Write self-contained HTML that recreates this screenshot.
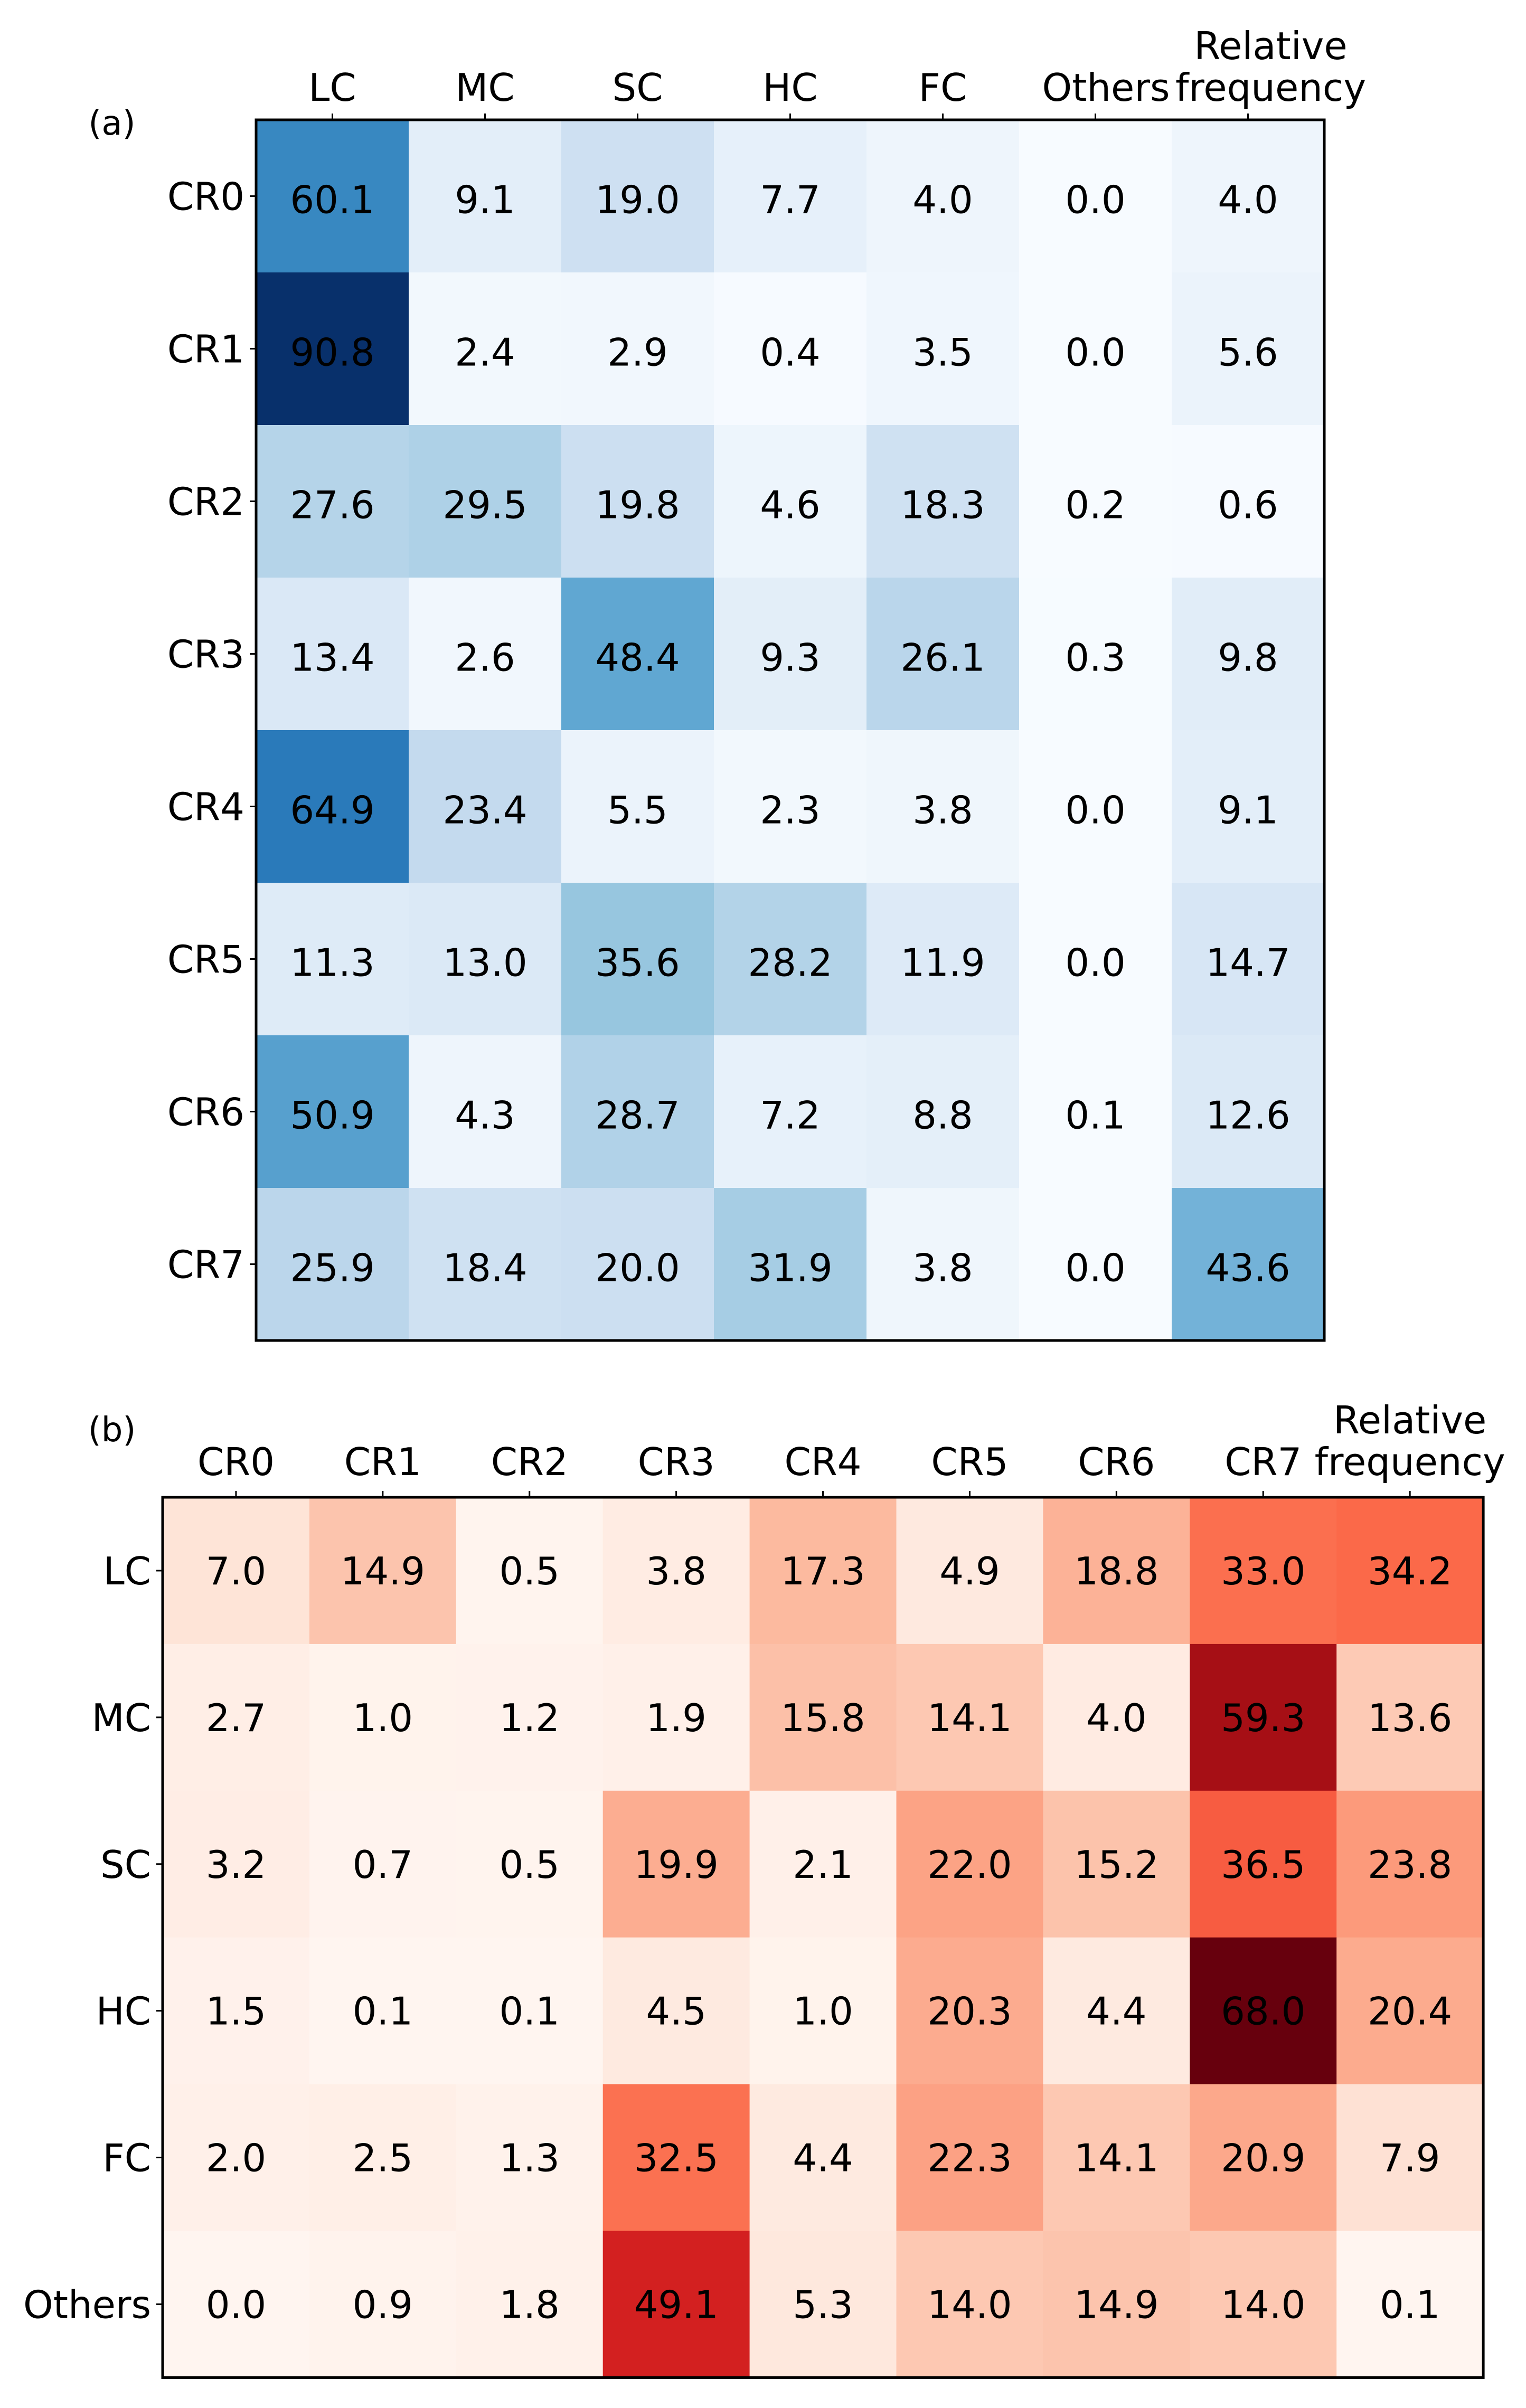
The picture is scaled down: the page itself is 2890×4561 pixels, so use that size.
<!DOCTYPE html>
<html><head><meta charset="utf-8"><style>
html,body{margin:0;padding:0;background:#fff;}
svg{display:block;}
text{font-family:"DejaVu Sans","Liberation Sans",sans-serif;fill:#000;}
</style></head><body>
<svg id="fig" width="2890" height="4561" viewBox="0 0 2890 4561" xmlns="http://www.w3.org/2000/svg"></svg>
<script>
const rowsA = ["CR0","CR1","CR2","CR3","CR4","CR5","CR6","CR7"];
const colsA = ["LC","MC","SC","HC","FC","Others","Relative frequency"];
const valsA = [
 [60.1,9.1,19.0,7.7,4.0,0.0,4.0],
 [90.8,2.4,2.9,0.4,3.5,0.0,5.6],
 [27.6,29.5,19.8,4.6,18.3,0.2,0.6],
 [13.4,2.6,48.4,9.3,26.1,0.3,9.8],
 [64.9,23.4,5.5,2.3,3.8,0.0,9.1],
 [11.3,13.0,35.6,28.2,11.9,0.0,14.7],
 [50.9,4.3,28.7,7.2,8.8,0.1,12.6],
 [25.9,18.4,20.0,31.9,3.8,0.0,43.6]
];
const rowsB = ["LC","MC","SC","HC","FC","Others"];
const colsB = ["CR0","CR1","CR2","CR3","CR4","CR5","CR6","CR7","Relative frequency"];
const valsB = [
 [7.0,14.9,0.5,3.8,17.3,4.9,18.8,33.0,34.2],
 [2.7,1.0,1.2,1.9,15.8,14.1,4.0,59.3,13.6],
 [3.2,0.7,0.5,19.9,2.1,22.0,15.2,36.5,23.8],
 [1.5,0.1,0.1,4.5,1.0,20.3,4.4,68.0,20.4],
 [2.0,2.5,1.3,32.5,4.4,22.3,14.1,20.9,7.9],
 [0.0,0.9,1.8,49.1,5.3,14.0,14.9,14.0,0.1]
];
const BLUES=["#f7fbff","#deebf7","#c6dbef","#9ecae1","#6baed6","#4292c6","#2171b5","#08519c","#08306b"];
const REDS=["#fff5f0","#fee0d2","#fcbba1","#fc9272","#fb6a4a","#ef3b2c","#cb181d","#a50f15","#67000d"];
function hex(h){return [1,3,5].map(i=>parseInt(h.substr(i,2),16));}
function cmap(stops,t){t=Math.max(0,Math.min(1,t));const p=t*(stops.length-1);const i=Math.min(Math.floor(p),stops.length-2);const f=p-i;const a=hex(stops[i]),b=hex(stops[i+1]);return "rgb("+a.map((v,k)=>Math.round(v+(b[k]-v)*f)).join(",")+")";}
const NS="http://www.w3.org/2000/svg";
const svg=document.getElementById('fig');
function mk(tag,attrs,parent){const e=document.createElementNS(NS,tag);for(const k in attrs)e.setAttribute(k,attrs[k]);(parent||svg).appendChild(e);return e;}
function panel(opt){
 const {left,top,cell,rows,cols,vals,stops,label,labelX,labelY,key,xlabOff,xlabShift,numOff}=opt;
 const g=mk('g',{});
 
 
 const flat=vals.flat();const mx=Math.max(...flat),mn=Math.min(...flat);
 const xs=j=>left+j*cell, ys=i=>top+i*cell;
 vals.forEach((row,i)=>row.forEach((v,j)=>{
  const r=mk('rect',{x:xs(j),y:ys(i),width:cell+0.5,height:cell+0.5,fill:cmap(stops,(v-mn)/(mx-mn))},g);
  
  
  const t=mk('text',{x:xs(j)+cell/2,y:ys(i)+cell/2+26+numOff,'font-size':72,'text-anchor':'middle'},g);
  
  
  t.textContent=v.toFixed(1);
 }));
 const W=cols.length*cell,H=rows.length*cell;
 const fr=mk('rect',{x:left,y:top,width:W,height:H,fill:'none',stroke:'#000','stroke-width':5},g);
 
 
 cols.forEach((c,j)=>{
  const cx=xs(j)+cell/2;
  mk('line',{x1:cx,x2:cx,y1:top,y2:top-12,stroke:'#000','stroke-width':3},g);
  const parts=c.split(' ');
  const tx=cx+(xlabShift[j]||0);
  const t=mk('text',{x:tx,y:top-56+xlabOff,'font-size':72,'text-anchor':'middle'},g);
  
  
  if(parts.length>1){
   const a=mk('tspan',{x:tx,dy:-79},t);a.textContent=parts[0];
   const b=mk('tspan',{x:tx,dy:79},t);b.textContent=parts[1];
  } else t.textContent=c;
 });
 rows.forEach((r,i)=>{
  const cy=ys(i)+cell/2;
  mk('line',{x1:left,x2:left-12,y1:cy,y2:cy,stroke:'#000','stroke-width':3},g);
  const t=mk('text',{x:left-22,y:cy+26,'font-size':72,'text-anchor':'end'},g);
  
  
  t.textContent=r;
 });
 const pl=mk('text',{x:labelX,y:labelY,'font-size':64,'text-anchor':'middle'},g);
 
 
 pl.textContent=label;
}
panel({key:'panel-a',left:485,top:227,cell:289,rows:rowsA,cols:colsA,vals:valsA,stops:BLUES,label:'(a)',labelX:212,labelY:255,xlabOff:20,xlabShift:[0,0,0,0,0,20,43],numOff:6});
panel({key:'panel-b',left:308,top:2836,cell:277.9,rows:rowsB,cols:colsB,vals:valsB,stops:REDS,label:'(b)',labelX:212,labelY:2730,xlabOff:14,xlabShift:[],numOff:0});
</script>
</body></html>
